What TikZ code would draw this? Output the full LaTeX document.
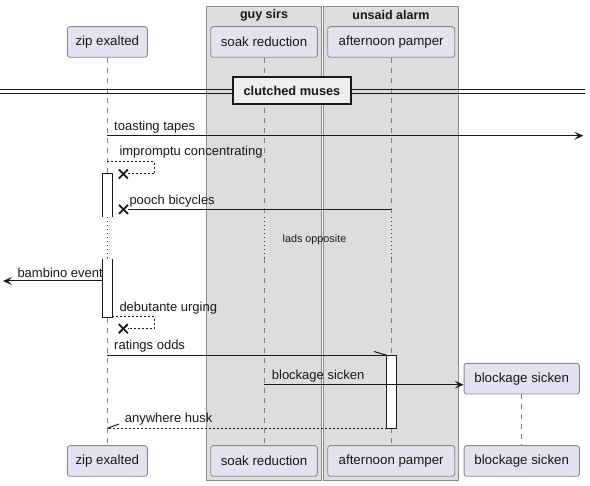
\documentclass[tikz,border=0pt]{standalone}
\usepackage{fontspec}
\setmainfont{Liberation Sans}
\usetikzlibrary{arrows.meta}
\definecolor{partfill}{HTML}{E2E2F0}
\definecolor{partdraw}{HTML}{8A8A8A}
\definecolor{groupfill}{HTML}{DDDDDD}
\definecolor{groupdraw}{HTML}{8A8A8A}
\definecolor{lifecol}{HTML}{808080}
\definecolor{delaycol}{HTML}{A80036}
\definecolor{divfill}{HTML}{EEEEEE}
\definecolor{ink}{HTML}{181818}
\tikzset{
  part/.style={draw=partdraw, fill=partfill, rounded corners=2.5pt, minimum height=30.6pt,
    font=\fontsize{13.3}{15}\selectfont, inner sep=0pt, line width=0.9pt, text=ink},
  grp/.style={draw=groupdraw, fill=groupfill, line width=1pt},
  grptitle/.style={font=\bfseries\fontsize{12.5}{14}\selectfont, inner sep=0pt, text=ink},
  life/.style={draw=lifecol, line width=0.9pt, dash pattern=on 5pt off 5pt},
  delayline/.style={draw=delaycol, line width=0.9pt, dash pattern=on 1pt off 3pt},
  act/.style={draw=ink, fill=white, line width=1pt},
  msg/.style={draw=ink, line width=1pt},
  ret/.style={draw=ink, line width=1pt, dash pattern=on 2pt off 2pt},
  tip/.style={-{Stealth[length=9pt,width=8pt,inset=4pt]}},
  mlabel/.style={font=\fontsize{13}{15}\selectfont, inner sep=0pt, anchor=west, text=ink},
  cross/.style={draw=ink, line width=1.8pt},
  divbox/.style={draw=ink, fill=divfill, line width=2pt, minimum width=117.4pt, minimum height=26.7pt,
    font=\bfseries\fontsize{12.8}{14}\selectfont, inner sep=0pt, text=ink},
}
\begin{document}
\begin{tikzpicture}[x=1pt,y=-1pt]
\useasboundingbox (0,0) rectangle (590,486);
% groups
\draw[grp] (206.7,6.7) rectangle (321.3,480.7);
\draw[grp] (323.3,6.7) rectangle (458.7,480.7);
\node[grptitle] (g1) at (264,15.5) {guy sirs};
\node[grptitle] (g2) at (391,15.5) {unsaid alarm};
% participants top
\node[part, minimum width=80pt] (zipT) at (107.3,42) {zip exalted};
\node[part, minimum width=106.6pt] (soakT) at (264,42) {soak reduction};
\node[part, minimum width=127pt] (pamT) at (391.2,42) {afternoon pamper};
% participants bottom
\node[part, minimum width=80pt] (zipB) at (107.3,461) {zip exalted};
\node[part, minimum width=106.6pt] (soakB) at (264,461) {soak reduction};
\node[part, minimum width=127pt] (pamB) at (391.2,461) {afternoon pamper};
\node[part, minimum width=115.3pt] (blkB) at (521.7,461) {blockage sicken};
% delay coordinates
\coordinate (zipD1) at (107.3,217);
\coordinate (zipD2) at (107.3,258);
\coordinate (soakD1) at (264,217);
\coordinate (soakD2) at (264,258);
\coordinate (pamD1) at (391.2,217);
\coordinate (pamD2) at (391.2,258);
% lifelines
\draw[life] (zipT.south) -- (zipD1);
\draw[delayline] (zipD1) -- (zipD2);
\draw[life] (zipD2) -- (zipB.north);
\draw[life] (soakT.south) -- (soakD1);
\draw[delayline] (soakD1) -- (soakD2);
\draw[life] (soakD2) -- (soakB.north);
\draw[life] (pamT.south) -- (pamD1);
\draw[delayline] (pamD1) -- (pamD2);
\draw[life] (pamD2) -- (pamB.north);
% created participant
\node[part, minimum width=115.3pt] (blkT) at (521.7,378.7) {blockage sicken};
\draw[life] (blkT.south) -- (blkB.north);
% divider
\draw[draw=ink, line width=1pt] (0,90) -- (585,90);
\draw[draw=ink, line width=1pt] (0,94) -- (585,94);
\node[divbox] (div) at (292,90.7) {clutched muses};
% delay text
\node[font=\fontsize{10.8}{12}\selectfont, inner sep=0pt, text=ink] (delaytxt) at (314.5,239.3) {lads opposite};
% activations
\fill[white] (102.3,174) rectangle (112.3,217);
\draw[act] (102.3,217) -- (102.3,174) -- (112.3,174) -- (112.3,217);
\fill[white] (102.3,259) rectangle (112.3,317.3);
\draw[act] (102.3,259) -- (102.3,317.3) -- (112.3,317.3) -- (112.3,259);
\draw[act] (386.7,355.3) rectangle (396.3,428.3);
% message 1: toasting tapes
\coordinate (m1a) at (107.3,135.7);
\coordinate (m1b) at (583.3,135.7);
\draw[msg, tip] (m1a) -- (m1b);
\node[mlabel] (l1) at (114,127) {toasting tapes};
% message 2: impromptu concentrating
\coordinate (m2a) at (107.3,161.7);
\coordinate (m2b) at (154.3,161.7);
\coordinate (m2c) at (154.3,174);
\coordinate (m2d) at (128,174);
\coordinate (x2) at (123.3,174);
\draw[ret] (m2a) -- (m2b) -- (m2c) -- (m2d);
\draw[cross] ([shift={(-4.5,-4.5)}]x2) -- ([shift={(4.5,4.5)}]x2);
\draw[cross] ([shift={(-4.5,4.5)}]x2) -- ([shift={(4.5,-4.5)}]x2);
\node[mlabel] (l2) at (119.3,151.7) {impromptu concentrating};
% message 3: pooch bicycles
\coordinate (m3a) at (391.2,209.3);
\coordinate (m3b) at (128,209.3);
\coordinate (x3) at (123.5,209.3);
\draw[msg] (m3a) -- (m3b);
\draw[cross] ([shift={(-4.5,-4.5)}]x3) -- ([shift={(4.5,4.5)}]x3);
\draw[cross] ([shift={(-4.5,4.5)}]x3) -- ([shift={(4.5,-4.5)}]x3);
\node[mlabel] (l3) at (129.3,200.7) {pooch bicycles};
% message 4: bambino event
\coordinate (m4a) at (102.3,281);
\coordinate (m4b) at (3,281);
\draw[msg, tip] (m4a) -- (m4b);
\node[mlabel] (l4) at (17.3,272.7) {bambino event};
% message 5: debutante urging
\coordinate (m5a) at (112.3,316.7);
\coordinate (m5b) at (154.3,316.7);
\coordinate (m5c) at (154.3,328.7);
\coordinate (m5d) at (128,328.7);
\coordinate (x5) at (123.3,328.7);
\draw[ret] (m5a) -- (m5b) -- (m5c) -- (m5d);
\draw[cross] ([shift={(-4.5,-4.5)}]x5) -- ([shift={(4.5,4.5)}]x5);
\draw[cross] ([shift={(-4.5,4.5)}]x5) -- ([shift={(4.5,-4.5)}]x5);
\node[mlabel] (l5) at (119.3,307.7) {debutante urging};
% message 6: ratings odds
\coordinate (m6a) at (107.3,355.3);
\coordinate (m6b) at (386.7,355.3);
\coordinate (m6h) at (374,351.5);
\draw[msg] (m6a) -- (m6b);
\draw[msg] (m6h) -- (m6b);
\node[mlabel] (l6) at (114,345.7) {ratings odds};
% message 7: blockage sicken
\coordinate (m7a) at (264,384.7);
\coordinate (m7b) at (blkT.west |- m7a);
\draw[msg, tip] (m7a) -- (m7b);
\node[mlabel] (l7) at (271.7,376.3) {blockage sicken};
% message 8: anywhere husk
\coordinate (m8a) at (386.7,428.3);
\coordinate (m8b) at (107.3,428.3);
\coordinate (m8h) at (119,424);
\draw[ret] (m8a) -- (m8b);
\draw[msg] (m8b) -- (m8h);
\node[mlabel] (l8) at (124.7,418.7) {anywhere husk};
\end{tikzpicture}
\end{document}
